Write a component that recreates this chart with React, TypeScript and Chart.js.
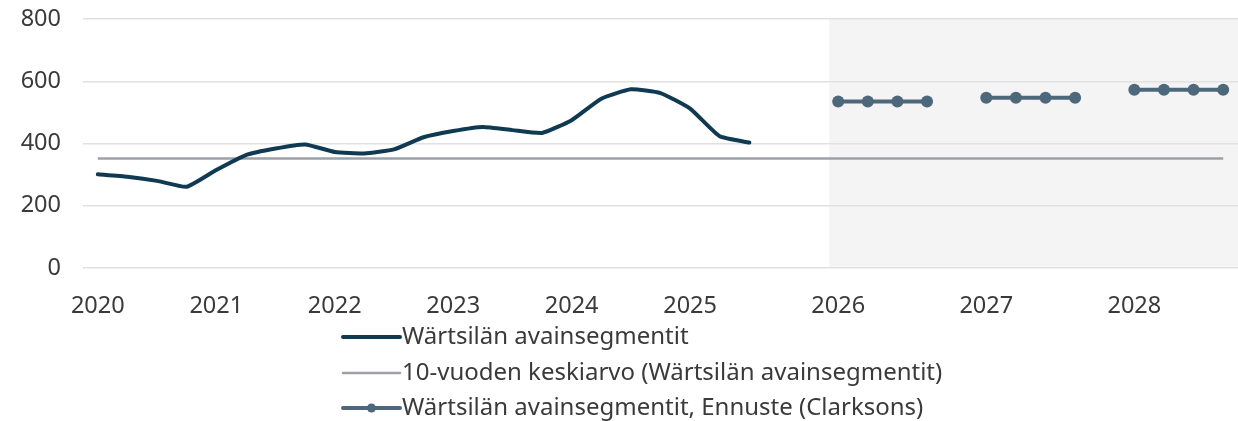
import React, { useEffect, useRef } from 'react';
import { Chart, registerables } from 'chart.js';

Chart.register(...registerables);

const categories = [
  '2020', '', '', '',
  '2021', '', '', '',
  '2022', '', '', '',
  '2023', '', '', '',
  '2024', '', '', '',
  '2025', '', '', '', '',
  '2026', '', '', '', '',
  '2027', '', '', '', '',
  '2028', '', '', '',
];

const historicalValues = [
  301, 293, 280, 261,
  315, 363, 384, 397,
  373, 368, 381, 420,
  440, 453, 443, 434,
  475, 544, 574, 562,
  512, 423, 403, null, null,
  null, null, null, null, null,
  null, null, null, null, null,
  null, null, null, null,
];

const averageValues = [
  352, 352, 352, 352,
  352, 352, 352, 352,
  352, 352, 352, 352,
  352, 352, 352, 352,
  352, 352, 352, 352,
  352, 352, 352, 352, 352,
  352, 352, 352, 352, 352,
  352, 352, 352, 352, 352,
  352, 352, 352, 352,
];

const forecastValues = [
  null, null, null, null,
  null, null, null, null,
  null, null, null, null,
  null, null, null, null,
  null, null, null, null,
  null, null, null, null, null,
  535, 535, 535, 535, null,
  547, 547, 547, 547, null,
  573, 573, 573, 573,
];

const seriesNames = [
  'Wärtsilän avainsegmentit',
  '10-vuoden keskiarvo (Wärtsilän avainsegmentit)',
  'Wärtsilän avainsegmentit, Ennuste (Clarksons)',
];

const yTicks = [0, 200, 400, 600, 800];

// category position (index units) where the forecast shading begins
const forecastShadeStart = 24.7;

const FONT = '"Noto Sans", "Open Sans", sans-serif';
const TEXT = '#3a3a3a';
const C_HIST = '#0f3a52';
const C_AVG = '#9ca1a9';
const C_FC = '#4e687b';

const shadePlugin = {
  id: 'forecastShade',
  beforeDraw(chart: any) {
    const { ctx, chartArea, scales } = chart;
    const x0 = scales.x.getPixelForValue(forecastShadeStart);
    ctx.save();
    ctx.fillStyle = '#f4f4f4';
    ctx.fillRect(x0, chartArea.top, chart.width - x0, chartArea.bottom - chartArea.top);
    ctx.restore();
  },
};

const columnLegendPlugin = {
  id: 'columnLegend',
  afterDraw(chart: any) {
    const { ctx } = chart;
    const x0 = 343;
    const x1 = 400;
    const ys = [337, 373, 408];
    ctx.save();
    chart.data.datasets.forEach((ds: any, i: number) => {
      const y = ys[i];
      ctx.strokeStyle = ds.borderColor;
      ctx.lineWidth = ds.borderWidth;
      ctx.lineCap = 'round';
      ctx.beginPath();
      ctx.moveTo(x0, y);
      ctx.lineTo(x1, y);
      ctx.stroke();
      if (ds.pointRadius > 0) {
        ctx.fillStyle = ds.borderColor;
        ctx.beginPath();
        ctx.arc((x0 + x1) / 2, y, 4.5, 0, Math.PI * 2);
        ctx.fill();
      }
      ctx.fillStyle = TEXT;
      ctx.font = `24px ${FONT}`;
      ctx.textBaseline = 'middle';
      ctx.textAlign = 'left';
      ctx.fillText(ds.label, x1 + 2, y);
    });
    ctx.restore();
  },
};

export default function App() {
  const ref = useRef<HTMLCanvasElement | null>(null);

  useEffect(() => {
    if (!ref.current) return;
    const chart = new Chart(ref.current, {
      type: 'line',
      data: {
        labels: categories,
        datasets: [
          {
            label: seriesNames[0],
            data: historicalValues,
            borderColor: C_HIST,
            backgroundColor: C_HIST,
            borderWidth: 4,
            pointRadius: 0,
            tension: 0.15,
            spanGaps: false,
            borderCapStyle: 'round',
            borderJoinStyle: 'round',
          },
          {
            label: seriesNames[1],
            data: averageValues,
            borderColor: C_AVG,
            backgroundColor: C_AVG,
            borderWidth: 2.5,
            pointRadius: 0,
            tension: 0,
          },
          {
            label: seriesNames[2],
            data: forecastValues,
            borderColor: C_FC,
            backgroundColor: C_FC,
            borderWidth: 4,
            pointRadius: 6,
            pointBorderWidth: 0,
            pointBackgroundColor: C_FC,
            tension: 0,
            spanGaps: false,
            clip: false,
          },
        ],
      },
      options: {
        animation: false,
        responsive: false,
        maintainAspectRatio: false,
        layout: { autoPadding: false, padding: { top: 19, right: 0, left: 0, bottom: 0 } },
        plugins: {
          legend: { display: false },
          tooltip: { enabled: false },
        },
        scales: {
          x: {
            type: 'category',
            offset: true,
            grid: { display: false, drawTicks: false },
            border: { display: false },
            ticks: {
              autoSkip: false,
              maxRotation: 0,
              minRotation: 0,
              padding: 24,
              color: TEXT,
              font: { family: FONT, size: 23.5 },
            },
            afterFit: (s: any) => {
              s.height = 153;
              s.paddingLeft = 0;
              s.paddingRight = 0;
            },
          },
          y: {
            min: 0,
            max: 800,
            afterBuildTicks: (s: any) => {
              s.ticks = yTicks.map((v) => ({ value: v }));
            },
            grid: { color: '#e1e1e1', lineWidth: 1.5, drawTicks: false },
            border: { display: false },
            ticks: {
              padding: 22,
              color: TEXT,
              font: { family: FONT, size: 23.5 },
            },
            afterFit: (s: any) => {
              s.width = 83;
              s.paddingTop = 0;
              s.paddingBottom = 0;
            },
          },
        },
      },
      plugins: [shadePlugin, columnLegendPlugin],
    });
    return () => chart.destroy();
  }, []);

  return (
    <div style={{ position: 'absolute', left: 0, top: 0, width: 1238, height: 421, background: '#fff' }}>
      <canvas ref={ref} width={1238} height={421} style={{ display: 'block' }} />
    </div>
  );
}
